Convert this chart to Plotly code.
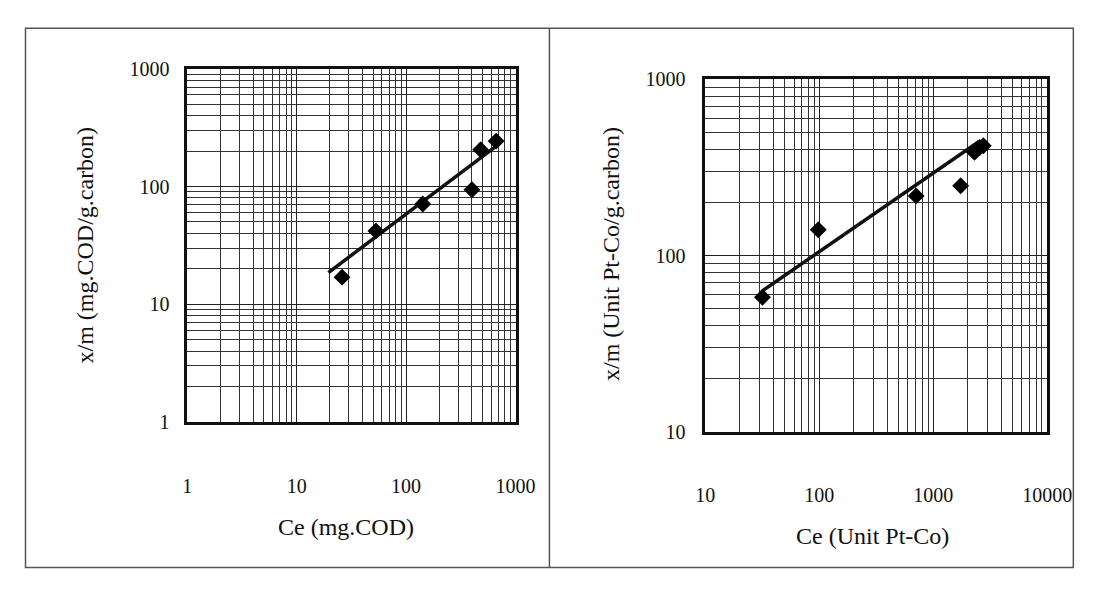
import plotly.graph_objects as go

# ---- data ----
left_ce = [26, 53, 142, 400, 480, 665]
left_xm = [17, 42, 71, 94, 205, 243]
left_fit_ce = [19.5, 710]
left_fit_xm = [18.6, 230]

right_ce = [31.7, 98, 708, 1740, 2300, 2550, 2750]
right_xm = [58, 140, 218, 249, 385, 410, 420]
right_fit_ce = [31.7, 2520]
right_fit_xm = [63, 444]

left_xticks = [1, 10, 100, 1000]
left_yticks = [1, 10, 100, 1000]
right_xticks = [10, 100, 1000, 10000]
right_yticks = [10, 100, 1000]

left_xtitle = "Ce (mg.COD)"
left_ytitle = "x/m (mg.COD/g.carbon)"
right_xtitle = "Ce (Unit Pt-Co)"
right_ytitle = "x/m (Unit Pt-Co/g.carbon)"

W, H = 1109, 590
FONT = "Liberation Serif"


def px(x):
    return x / W


def py(y):
    return 1 - y / H


fig = go.Figure()

marker = dict(symbol="diamond", size=13, color="black")
fig.add_trace(go.Scatter(x=left_fit_ce, y=left_fit_xm, mode="lines",
                         line=dict(color="#111", width=3.5), xaxis="x", yaxis="y",
                         showlegend=False, hoverinfo="skip"))
fig.add_trace(go.Scatter(x=left_ce, y=left_xm, mode="markers", marker=marker,
                         xaxis="x", yaxis="y", showlegend=False))
fig.add_trace(go.Scatter(x=right_fit_ce, y=right_fit_xm, mode="lines",
                         line=dict(color="#111", width=3.5), xaxis="x2", yaxis="y2",
                         showlegend=False, hoverinfo="skip"))
fig.add_trace(go.Scatter(x=right_ce, y=right_xm, mode="markers", marker=marker,
                         xaxis="x2", yaxis="y2", showlegend=False))

tickfont = dict(family=FONT, size=20, color="#111")
minor = dict(dtick="D1", showgrid=True, gridcolor="#333", gridwidth=1, ticks="")


def axis(domain, rng, ticks, anchor, standoff):
    return dict(
        type="log", domain=domain, range=rng, anchor=anchor,
        tickmode="array", tickvals=ticks, ticktext=[str(t) for t in ticks],
        showgrid=True, gridcolor="#222", gridwidth=1.3,
        minor=minor,
        showline=True, mirror=True, linecolor="#111", linewidth=2.5,
        ticks="", tickfont=tickfont, ticklabelstandoff=standoff,
        zeroline=False,
    )


fig.update_layout(
    width=W, height=H,
    margin=dict(l=0, r=0, t=0, b=0),
    paper_bgcolor="white", plot_bgcolor="white",
    xaxis=axis([px(183), px(522)], [0, 3], left_xticks, "y", 44),
    yaxis=axis([py(427), py(60)], [0, 3], left_yticks, "x", 11),
    xaxis2=axis([px(718), px(1071)], [1, 4], right_xticks, "y2", 44),
    yaxis2=axis([py(437), py(71)], [1, 3], right_yticks, "x2", 13),
)

titlefont = dict(family=FONT, size=24, color="#111")
for x, y, txt, ang in [(347, 536, left_xtitle, 0), (891, 545, right_xtitle, 0),
                       (77, 243, left_ytitle, -90), (620, 252, right_ytitle, -90)]:
    fig.add_annotation(x=px(x), y=py(y), xref="paper", yref="paper", text=txt,
                       showarrow=False, font=titlefont, textangle=ang,
                       xanchor="center", yanchor="middle")

# outer frame and divider
fig.add_shape(type="rect", xref="paper", yref="paper",
              x0=px(16), x1=px(1098), y0=py(578), y1=py(18),
              line=dict(color="#555", width=1.5))
fig.add_shape(type="line", xref="paper", yref="paper",
              x0=px(557), x1=px(557), y0=py(578), y1=py(18),
              line=dict(color="#555", width=1.5))

fig.write_html("out.html")
